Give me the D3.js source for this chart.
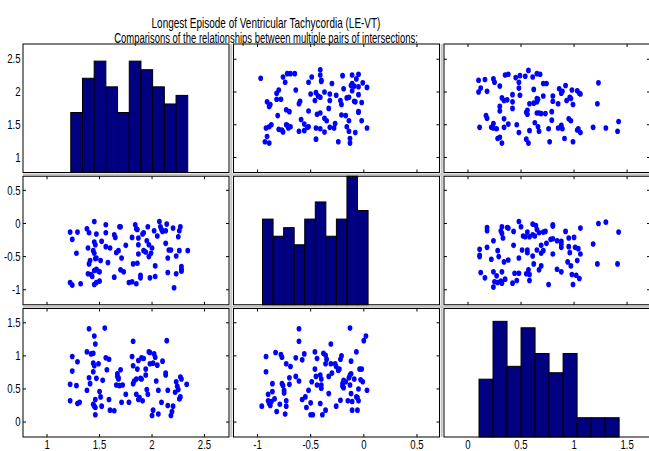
<!DOCTYPE html>
<html><head><meta charset="utf-8">
<script src="https://cdn.jsdelivr.net/npm/d3@7"></script>
<style>body{margin:0;background:#fff}svg{display:block}</style>
</head><body>
<svg id="c" width="649" height="451"></svg>
<script>
// ---- Data ----
// Panel (row2,col1): X1 vs X2
const p21_x1 = [1.22,1.24,1.29,1.28,1.22,1.24,1.32,1.38,1.40,1.39,
  1.41,1.40,1.39,1.42,1.43,1.45,1.47,1.45,1.46,1.44,
  1.45,1.47,1.46,1.45,1.47,1.49,1.45,1.47,1.50,1.50,
  1.51,1.52,1.56,1.56,1.56,1.58,1.60,1.64,1.65,1.64,
  1.66,1.68,1.69,1.70,1.71,1.70,1.73,1.75,1.78,1.81,
  1.81,1.82,1.84,1.85,1.86,1.87,1.87,1.85,1.87,1.86,
  1.89,1.89,1.91,1.92,1.92,1.94,1.96,1.95,1.97,1.98,
  1.99,2.00,2.02,2.03,2.03,2.05,2.07,2.08,2.10,2.09,
  2.13,2.14,2.13,2.15,2.16,2.18,2.15,2.20,2.21,2.23,
  2.23,2.25,2.26,2.27,2.26,2.28,2.28,2.28,2.34,1.97];
const p21_x2 = [-0.13,-0.24,-0.13,-0.45,-0.89,-0.93,-0.91,-0.08,-0.14,-0.37,
  -0.56,-0.61,-0.76,-0.77,-0.80,0.03,-0.16,-0.28,-0.32,-0.41,
  -0.45,-0.52,-0.53,-0.71,-0.69,-0.72,-0.92,-0.89,-0.87,-0.73,
  -0.56,-0.27,-0.02,-0.14,-0.35,-0.59,-0.37,-0.81,-0.21,-0.17,
  -0.44,-0.41,-0.05,-0.05,-0.52,-0.70,-0.73,-0.33,-0.89,-0.21,
  -0.88,-0.61,-0.02,-0.08,-0.09,-0.22,-0.32,-0.91,-0.46,-0.60,
  -0.78,-0.82,-0.16,-0.14,-0.41,-0.43,-0.05,-0.26,-0.32,-0.82,
  -0.45,-0.37,-0.11,-0.80,-0.64,-0.19,0.03,-0.05,-0.12,-0.09,
  -0.11,-0.01,-0.30,-0.52,-0.40,-0.40,-0.74,-0.07,-0.97,-0.49,
  -0.76,-0.20,-0.11,-0.05,-0.41,-0.65,-0.69,-0.72,-0.41,-0.50];
// Panel (row3,col1): X1 vs X3
const p31_x1 = [1.22,1.22,1.24,1.24,1.28,1.29,1.31,1.38,1.38,1.40,
  1.40,1.41,1.42,1.44,1.44,1.44,1.45,1.45,1.46,1.44,
  1.45,1.46,1.46,1.47,1.46,1.49,1.50,1.51,1.52,1.55,
  1.56,1.57,1.59,1.59,1.60,1.64,1.66,1.67,1.68,1.68,
  1.70,1.69,1.71,1.72,1.75,1.78,1.81,1.82,1.82,1.83,
  1.85,1.86,1.87,1.85,1.87,1.88,1.89,1.90,1.90,1.91,
  1.92,1.94,1.95,1.96,1.97,1.98,1.98,2.00,2.01,2.01,
  2.02,2.03,2.04,2.06,2.06,2.09,2.10,2.13,2.14,2.13,
  2.15,2.15,2.18,2.19,2.20,2.22,2.23,2.24,2.25,2.26,
  2.27,2.27,2.28,2.33,2.05,1.94,1.82,1.53,1.29,1.67];
const p31_x3 = [0.32,0.57,0.77,0.99,0.55,0.28,0.30,0.48,1.06,1.41,
  0.67,0.58,1.03,1.04,0.76,0.89,1.30,0.85,1.18,0.27,
  0.24,0.22,0.34,0.66,0.11,0.88,0.46,0.38,0.24,1.42,
  0.97,0.79,0.34,0.95,0.18,0.17,0.56,0.69,0.67,0.65,
  0.79,0.55,0.30,0.56,0.42,0.30,0.99,1.22,0.58,0.62,
  0.65,0.80,0.93,0.42,0.34,0.37,0.66,0.97,0.65,0.32,
  0.96,0.80,0.49,0.42,1.06,0.88,1.05,0.10,0.89,0.18,
  1.03,0.98,0.62,0.12,0.48,0.30,0.92,0.74,1.23,0.71,
  0.25,0.48,0.10,0.16,0.24,0.45,0.61,0.54,0.49,0.35,
  0.38,0.68,0.65,0.57,0.86,0.71,0.85,0.63,0.91,0.73];
// Panel (row3,col2): X2 vs X3
const p32_x2 = [-0.96,-0.92,-0.92,-0.90,-0.90,-0.89,-0.88,-0.87,-0.86,-0.86,
  -0.84,-0.83,-0.82,-0.79,-0.78,-0.77,-0.77,-0.76,-0.75,-0.75,
  -0.73,-0.73,-0.73,-0.74,-0.70,-0.70,-0.69,-0.64,-0.64,-0.61,
  -0.61,-0.61,-0.58,-0.56,-0.58,-0.55,-0.54,-0.52,-0.50,-0.50,
  -0.48,-0.49,-0.46,-0.46,-0.45,-0.44,-0.44,-0.41,-0.40,-0.40,
  -0.40,-0.41,-0.39,-0.38,-0.36,-0.35,-0.36,-0.36,-0.33,-0.33,
  -0.31,-0.31,-0.30,-0.27,-0.26,-0.26,-0.24,-0.23,-0.22,-0.22,
  -0.21,-0.20,-0.20,-0.19,-0.19,-0.17,-0.15,-0.14,-0.13,-0.13,
  -0.13,-0.12,-0.12,-0.12,-0.11,-0.11,-0.09,-0.07,-0.07,-0.06,
  -0.06,-0.05,-0.05,-0.04,-0.02,-0.03,-0.01,0.00,0.02,0.03];
const p32_x3 = [0.24,0.99,0.76,0.42,0.32,0.28,0.25,0.31,0.58,0.46,
  0.35,1.05,0.16,0.27,1.02,0.98,0.58,0.55,0.48,0.44,
  0.88,0.32,0.24,0.12,0.67,0.57,0.84,0.97,0.69,1.41,
  1.22,0.62,0.94,1.03,0.34,0.38,0.22,0.48,0.29,0.11,
  0.11,0.61,1.06,0.80,0.69,0.56,0.96,0.71,0.65,0.56,
  0.51,0.28,0.11,1.04,1.01,0.95,0.88,0.18,0.43,0.69,
  1.18,0.88,0.74,0.88,0.84,0.24,0.78,0.80,0.95,0.33,
  1.00,0.54,0.58,0.63,0.52,0.61,0.32,0.67,0.56,1.42,
  0.71,0.43,0.92,0.73,0.18,0.31,0.65,1.06,0.38,0.37,
  0.18,0.50,0.32,0.80,0.80,0.64,0.61,1.23,1.30,0.48];

// Histogram counts (10 equal bins between lo and hi)
const hist1 = [7,11,13,10,7,13,12,10,8,9];
const hist2 = [10,8,9,7,10,12,8,10,15,11];
const hist3 = [9,18,11,17,13,10,13,3,3,3];
const histLo = [1.226,-0.953,0.104];
const histHi = [2.340,0.040,1.425];
const histYMax = [15,15,20];

// axis limits and tick labels
const limits = [[0.771,2.733],[-1.226,0.712],[-0.226,1.716]];
const ticks1 = [1,1.5,2,2.5];
const ticks2 = [-1,-0.5,0,0.5];
const ticks3 = [0,0.5,1,1.5];
const tickLabels = [["1","1.5","2","2.5"],["-1","-0.5","0","0.5"],["0","0.5","1","1.5"]];
const titleLines = ["Longest Episode of Ventricular Tachycordia (LE-VT)",
                    "Comparisons of the relationships between multiple pairs of intersections:"];

// ---- Drawing ----
const ticks = [ticks1,ticks2,ticks3];
const hists = [hist1,hist2,hist3];
const svg = d3.select('#c');
const X0=23, PW=206, XS=210.5, Y0=44, PH=128.5, YS=132.25;
const xs=[0,1,2].map(j=>d3.scaleLinear().domain(limits[j]).range([X0+j*XS, X0+j*XS+PW]));
const ys=[0,1,2].map(i=>d3.scaleLinear().domain(limits[i]).range([Y0+i*YS+PH, Y0+i*YS]));
const FONT="Liberation Sans, Arial, sans-serif";
const SX=0.8;

// gray gaps between panels
const gapG = svg.append('g').attr('stroke','#c4c4c4').attr('stroke-width',2);
[0,1].forEach(k=>{
  const gx = X0+k*XS+PW+(XS-PW)/2;
  gapG.append('line').attr('x1',gx).attr('x2',gx).attr('y1',Y0).attr('y2',Y0+2*YS+PH);
  const gy = Y0+k*YS+PH+(YS-PH)/2;
  gapG.append('line').attr('y1',gy).attr('y2',gy).attr('x1',X0).attr('x2',X0+2*XS+PW);
});

const pairs = {
  "1,0":[p21_x1,p21_x2], "0,1":[p21_x2,p21_x1],
  "2,0":[p31_x1,p31_x3], "0,2":[p31_x3,p31_x1],
  "2,1":[p32_x2,p32_x3], "1,2":[p32_x3,p32_x2]
};

for(let i=0;i<3;i++){
  for(let j=0;j<3;j++){
    const x=xs[j], y=ys[i];
    const [l,r]=x.range(), [b,t]=y.range();
    const g=svg.append('g');
    g.append('rect').attr('x',l).attr('y',t).attr('width',r-l).attr('height',b-t).attr('fill','#fff');
    if(i===j){
      const hy=d3.scaleLinear().domain([0,histYMax[i]]).range([b,t]);
      const w=(histHi[i]-histLo[i])/10;
      g.selectAll('rect.bar').data(hists[i]).enter().append('rect')
        .attr('class','bar')
        .attr('x',(d,k)=>x(histLo[i]+k*w))
        .attr('width',(d,k)=>x(histLo[i]+(k+1)*w)-x(histLo[i]+k*w))
        .attr('y',d=>hy(d)).attr('height',d=>b-hy(d))
        .attr('fill','#000080').attr('stroke','#000').attr('stroke-width',1);
    } else {
      const [px,py]=pairs[i+","+j];
      g.selectAll('ellipse').data(px).enter().append('ellipse')
        .attr('cx',(d,k)=>x(px[k])).attr('cy',(d,k)=>y(py[k]))
        .attr('rx',2.4).attr('ry',2.8).attr('fill','#0000ff');
      const tg=g.append('g').attr('stroke','#000').attr('stroke-width',1);
      ticks[j].forEach(v=>{
        const tx=x(v);
        tg.append('line').attr('x1',tx).attr('x2',tx).attr('y1',b).attr('y2',b-3);
        tg.append('line').attr('x1',tx).attr('x2',tx).attr('y1',t).attr('y2',t+3);
      });
      ticks[i].forEach(v=>{
        const ty=y(v);
        tg.append('line').attr('y1',ty).attr('y2',ty).attr('x1',l).attr('x2',l+3);
        tg.append('line').attr('y1',ty).attr('y2',ty).attr('x1',r).attr('x2',r-3);
      });
    }
    g.append('rect').attr('x',l).attr('y',t).attr('width',r-l).attr('height',b-t)
      .attr('fill','none').attr('stroke','#000').attr('stroke-width',1);
  }
}

function addText(x,y,str,size,anchor,sx){
  return svg.append('text').attr('transform',`translate(${x},${y}) scale(${sx},1)`)
    .attr('font-family',FONT).attr('font-size',size).attr('text-anchor',anchor)
    .attr('fill','#000').text(str);
}
// y tick labels (left column)
for(let i=0;i<3;i++){
  ticks[i].forEach((v,k)=>addText(X0-2.5, ys[i](v)+4.2, tickLabels[i][k], 12, 'end', SX));
}
// x tick labels (bottom row)
for(let j=0;j<3;j++){
  ticks[j].forEach((v,k)=>addText(xs[j](v), 449, tickLabels[j][k], 12, 'middle', SX));
}
// title
const targetW=[229,304];
const baseY=[28,43.3];
titleLines.forEach((s,k)=>{
  const tt=addText(266, baseY[k], s, 15, 'middle', 1);
  const len=tt.node().getComputedTextLength();
  tt.attr('transform',`translate(266,${baseY[k]}) scale(${targetW[k]/len},1)`);
});
</script>
</body></html>
